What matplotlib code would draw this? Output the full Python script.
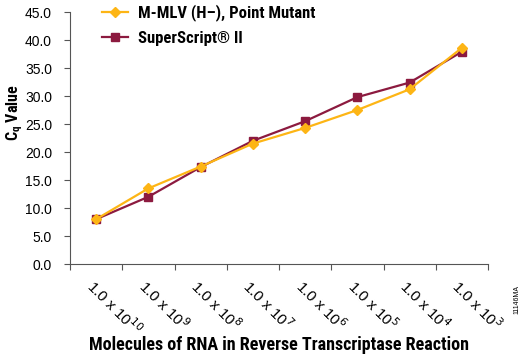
import numpy as np
import matplotlib.pyplot as plt
from matplotlib import font_manager

exps = [10, 9, 8, 7, 6, 5, 4, 3]
labels = [r"1.0 x 10$^{%d}$" % e for e in exps]
mmlv = [8.0, 13.5, 17.4, 21.5, 24.3, 27.5, 31.2, 38.6]
ssii = [8.0, 12.0, 17.3, 22.0, 25.5, 29.8, 32.4, 37.9]

orange = "#FDB515"
maroon = "#8C1A3F"

# condensed bold font if there is one
fonts = font_manager.fontManager.ttflist
names = {f.name for f in fonts}
if "Liberation Sans Narrow" in names:
    cond = dict(family="Liberation Sans Narrow", weight="bold")
elif "Roboto Condensed" in names:
    cond = dict(family="Roboto Condensed", weight="bold")
elif any(f.name == "DejaVu Sans" and f.stretch == "condensed" for f in fonts):
    cond = dict(family="DejaVu Sans", weight="bold", stretch="condensed")
else:
    cond = dict(family="Roboto", weight="bold")

plt.rcParams['font.family'] = ['Liberation Sans', 'DejaVu Sans']

fig = plt.figure(figsize=(5.26, 3.56), dpi=100)
ax = fig.add_axes([70/526, (356-264)/356, (488-70)/526, (264-12)/356])

x = np.arange(len(labels)) + 0.5
ax.plot(x, mmlv, color=orange, lw=1.6, marker="D", ms=5.5, label="M-MLV (H\u2013), Point Mutant", zorder=3)
ax.plot(x, ssii, color=maroon, lw=1.6, marker="s", ms=5.5, label="SuperScript\u00ae II", zorder=2)

ax.set_xlim(0, len(labels))
ax.set_ylim(0, 45)
ax.set_yticks(np.arange(0, 45.1, 5))
ax.set_yticklabels(["%.1f" % v for v in np.arange(0, 45.1, 5)], fontsize=10)
ax.set_xticks(np.arange(0, len(labels) + 1))
ax.set_xticklabels([])
ax.set_xticks(x, minor=True)
ax.set_xticklabels(labels, minor=True, rotation=-45, ha="left", va="top",
                   rotation_mode="anchor", fontsize=11)
ax.tick_params(axis="x", which="minor", length=0, pad=9)
ax.tick_params(axis="x", which="major", length=4, color="#555555")
ax.tick_params(axis="y", length=4, color="#555555", pad=9)
for s in ["top", "right"]:
    ax.spines[s].set_visible(False)
for s in ["left", "bottom"]:
    ax.spines[s].set_color("#555555")

ax.set_ylabel(r"C$_\mathregular{q}$ Value", fontsize=11.5, **cond)
ax.yaxis.set_label_coords(-0.108, 0.6)
ax.set_xlabel("Molecules of RNA in Reverse Transcriptase Reaction", fontsize=13, **cond)
ax.xaxis.set_label_coords(0.5, -0.285)

leg = ax.legend(loc="upper left", bbox_to_anchor=(0.04, 1.09), frameon=False,
                prop=dict(size=12, **cond),
                handlelength=1.6, labelspacing=0.6, handletextpad=0.6)

fig.text(517/526, 1 - 300/356, "11146MA", rotation=90, fontsize=5, ha="center", va="center")

fig.savefig("out.png", dpi=100)
